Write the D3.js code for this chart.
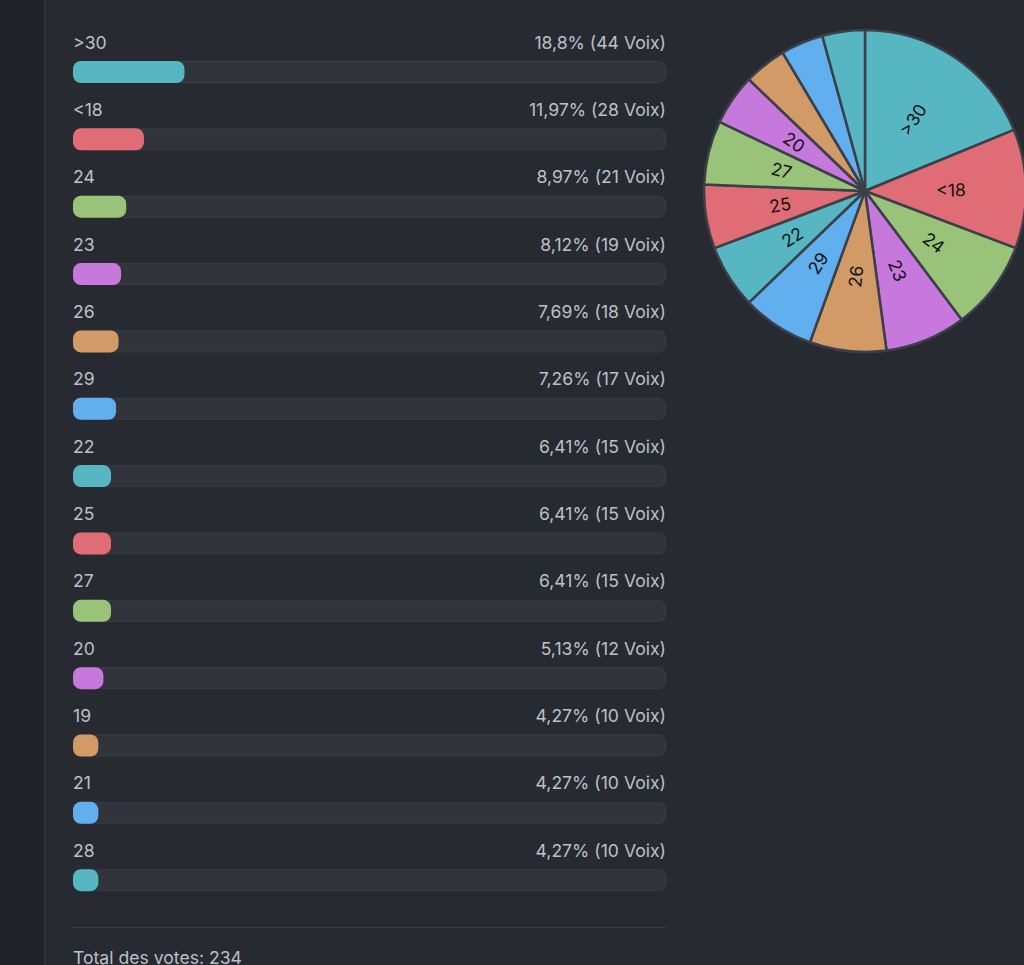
<!DOCTYPE html>
<html>
<head>
<meta charset="utf-8">
<script src="https://cdn.jsdelivr.net/npm/d3@7"></script>
<style>
  body { margin: 0; background: #272a31; overflow: hidden; }
  svg { display: block; font-family: Inter, "Noto Sans", sans-serif; }
</style>
</head>
<body>
<svg id="poll"></svg>
<script>
// poll answers, in the order shown
var answers = [">30", "<18", "24", "23", "26", "29", "22", "25", "27", "20", "19", "21", "28"];
var votes = [44, 28, 21, 19, 18, 17, 15, 15, 15, 12, 10, 10, 10];
var percentLabels = ["18,8%", "11,97%", "8,97%", "8,12%", "7,69%", "7,26%", "6,41%", "6,41%", "6,41%", "5,13%", "4,27%", "4,27%", "4,27%"];
var palette = ["#56b6c2", "#e06c75", "#98c379", "#c678dd", "#d19a66", "#61afef"];
var totalVotes = 234;

var screen = {width: 1024, height: 965};

var svg = d3.select("#poll")
    .attr("width", screen.width)
    .attr("height", screen.height);

// side panel on the left
svg.append("rect")
    .attr("x", 0).attr("y", 0)
    .attr("width", 44).attr("height", screen.height)
    .attr("fill", "#202227");
svg.append("line")
    .attr("x1", 44.5).attr("x2", 44.5)
    .attr("y1", 0).attr("y2", screen.height)
    .attr("stroke", "#34373e");

var colorScale = d3.scaleOrdinal()
    .domain(answers)
    .range(palette);

//---- bar list ----
var list = {left: 73, width: 593, top: 30, rowStep: 67.35, barHeight: 21};

var xScale = d3.scaleLinear()
    .domain([0, totalVotes])
    .range([0, list.width]);

var yScale = d3.scaleLinear()
    .domain([0, answers.length])
    .range([list.top, list.top + list.rowStep * answers.length]);

var rows = svg.append("g")
    .attr("transform", "translate(" + list.left + ",0)")
    .selectAll("g")
    .data(answers)
    .enter()
    .append("g")
    .attr("transform", function(d, i) { return "translate(0," + yScale(i) + ")"; });

rows.append("text")
    .text(function(d) { return d; })
    .attr("x", 0)
    .attr("y", 18.5)
    .attr("fill", "#bcc0c8")
    .style("font-size", "17.6px");

rows.append("text")
    .text(function(d, i) { return percentLabels[i] + " (" + votes[i] + " Voix)"; })
    .attr("x", list.width)
    .attr("y", 18.5)
    .attr("text-anchor", "end")
    .attr("fill", "#bcc0c8")
    .style("font-size", "17.6px");

rows.append("rect")
    .attr("x", 0.5)
    .attr("y", 31.5)
    .attr("width", list.width - 1)
    .attr("height", list.barHeight)
    .attr("rx", 7)
    .attr("fill", "#31343b")
    .attr("stroke", "#393c43");

rows.append("rect")
    .attr("x", 0)
    .attr("y", 31)
    .attr("width", function(d, i) { return xScale(votes[i]); })
    .attr("height", list.barHeight + 1)
    .attr("rx", 8)
    .attr("fill", function(d) { return colorScale(d); });

// separator and total
svg.append("line")
    .attr("x1", list.left).attr("x2", list.left + list.width)
    .attr("y1", 927.5).attr("y2", 927.5)
    .attr("stroke", "#3a3d44");

svg.append("text")
    .text("Total des votes: " + totalVotes)
    .attr("x", list.left)
    .attr("y", 964)
    .attr("fill", "#bcc0c8")
    .style("font-size", "17.6px");

//---- pie ----
var pieCenter = {x: 865, y: 191};
var radius = 161;

var pie = d3.pie()
    .value(function(d, i) { return votes[i]; })
    .sort(null);

var arc = d3.arc()
    .innerRadius(0)
    .outerRadius(radius);

var labelArc = d3.arc()
    .innerRadius(86)
    .outerRadius(86);

var pieG = svg.append("g")
    .attr("transform", "translate(" + pieCenter.x + "," + pieCenter.y + ")");

var slices = pie(answers);

pieG.selectAll("path")
    .data(slices)
    .enter()
    .append("path")
    .attr("d", arc)
    .attr("fill", function(d) { return colorScale(d.data); })
    .attr("stroke", "#3b3f48")
    .attr("stroke-width", 2.5)
    .attr("stroke-linejoin", "round");

pieG.selectAll("text")
    .data(slices.filter(function(d) { return d.endAngle - d.startAngle > 0.3; }))
    .enter()
    .append("text")
    .text(function(d) { return d.data; })
    .attr("text-anchor", "middle")
    .attr("dominant-baseline", "central")
    .attr("fill", "#111111")
    .style("font-size", "17.6px")
    .attr("transform", function(d) {
        var c = labelArc.centroid(d);
        var mid = (d.startAngle + d.endAngle) / 2 * 180 / Math.PI;
        var rot = mid - 90;
        if (mid > 180) rot -= 180;
        return "translate(" + c[0] + "," + c[1] + ") rotate(" + rot + ")";
    });
</script>
</body>
</html>
